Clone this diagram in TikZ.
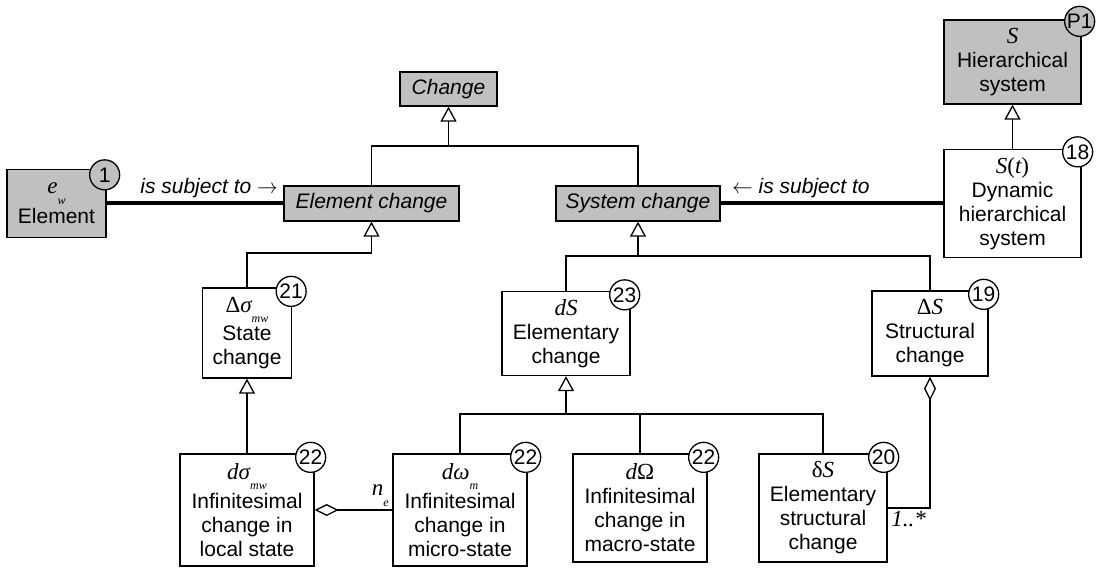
\documentclass[tikz,border=0pt]{standalone}
\usepackage{fontspec}
\setmainfont{Liberation Sans}
\newfontfamily\serifface{Liberation Serif}
\usepackage{xcolor}
\usetikzlibrary{arrows.meta}
\definecolor{boxgray}{RGB}{192,192,192}
\newcommand{\mitx}[1]{{\serifface\itshape #1}}
\newcommand{\mupx}[1]{{\serifface #1}}
\newcommand{\msubx}[1]{\raisebox{-0.45em}{\fontsize{12}{12}\selectfont\serifface\itshape #1}}
\newcommand{\mline}{\fontsize{23}{23}\selectfont}

\begin{document}
\begin{tikzpicture}[x=1pt,y=-1pt,font=\fontsize{21}{24}\selectfont,
 box/.style={draw,line width=1.3pt,inner sep=2pt,align=center},
 gbox/.style={box,fill=boxgray},
 abox/.style={gbox,font=\fontsize{21}{24}\selectfont\itshape},
 num/.style={circle,draw,line width=1.3pt,fill=white,minimum size=30pt,inner sep=0pt},
 gnum/.style={num,fill=boxgray},
 link/.style={line width=1.3pt},
 gen/.style={link,-{Triangle[open,width=16pt,length=15pt]}},
 agg/.style={link,-{Diamond[open,width=12pt,length=24pt]}},
 assoc/.style={line width=4pt}]
 \useasboundingbox (0,0) rectangle (1107,569);

 \node[abox,minimum width=97pt,minimum height=34pt] (change) at (448.5,89) {Change};
 \node[abox,minimum width=175pt,minimum height=35pt] (echange) at (371.5,203.5) {Element change};
 \node[abox,minimum width=164pt,minimum height=35pt] (schange) at (638,203.5) {System change};
 \node[gbox,minimum width=99pt,minimum height=68pt] (element) at (56.5,203.5)
  {{\mline\mitx{e}\msubx{w}}\\[3pt]Element};
 \node[gbox,minimum width=137pt,minimum height=84pt] (hier) at (1012.5,62)
  {{\mline\mitx{S}}\\Hierarchical\\system};
 \node[box,minimum width=137pt,minimum height=108pt] (dyn) at (1012.5,203.5)
  {{\mline\mitx{S}\mupx{(}\mitx{t}\mupx{)}}\\Dynamic\\hierarchical\\system};
 \node[box,minimum width=89pt,minimum height=90pt] (state) at (247,333)
  {{\mline\mupx{Δ}\mitx{σ}\msubx{mw}}\\[2pt]State\\change};
 \node[box,minimum width=128pt,minimum height=84pt] (elem) at (566,333.5)
  {{\mline\mitx{dS}}\\Elementary\\change};
 \node[box,minimum width=116pt,minimum height=85pt] (structc) at (930,333.5)
  {{\mline\mupx{Δ}\mitx{S}}\\Structural\\change};
 \node[box,minimum width=134pt,minimum height=112pt] (local) at (247,510)
  {{\mline\mitx{dσ}\msubx{mw}}\\[2pt]Infinitesimal\\change in\\local state};
 \node[box,minimum width=134pt,minimum height=112pt] (micro) at (460,510)
  {{\mline\mitx{dω}\msubx{m}}\\[2pt]Infinitesimal\\change in\\micro-state};
 \node[box,minimum width=134pt,minimum height=108pt] (macro) at (640,508)
  {{\mline\mitx{d}\mupx{Ω}}\\Infinitesimal\\change in\\macro-state};
 \node[box,minimum width=128pt,minimum height=108pt] (esc) at (823,508)
  {{\mline\mupx{δ}\mitx{S}}\\Elementary\\structural\\change};

 \node[gnum] (nP1) at ([shift={(-2,2)}]hier.north east) {P1};
 \node[gnum] (n1) at ([shift={(-2,6)}]element.north east) {1};
 \node[num] (n18) at ([shift={(-4,3)}]dyn.north east) {18};
 \node[num] (n21) at ([shift={(-1,4)}]state.north east) {21};
 \node[num] (n23) at ([shift={(-6,4)}]elem.north east) {23};
 \node[num] (n19) at ([shift={(-5,4)}]structc.north east) {19};
 \node[num] (n22a) at ([shift={(-4,4)}]local.north east) {22};
 \node[num] (n22b) at ([shift={(-2,4)}]micro.north east) {22};
 \node[num] (n22c) at ([shift={(-4,4)}]macro.north east) {22};
 \node[num] (n20) at ([shift={(-4,4)}]esc.north east) {20};

 \coordinate (cbus) at (448.5,146);
 \coordinate (ebend) at (371.5,253);
 \coordinate (sbus) at (638,256);
 \coordinate (dbus) at (566,414);

 \draw[link] (echange.north) |- (cbus) -| (schange.north);
 \draw[gen] (cbus) -- (change.south);
 \draw[gen] (state.north) |- (ebend) -- (echange.south);
 \draw[link] (elem.north) |- (sbus) -| (structc.north);
 \draw[gen] (sbus) -- (schange.south);
 \draw[link] (micro.north) |- (dbus) -| (esc.north);
 \draw[link] (macro.north) -- (macro.north |- dbus);
 \draw[gen] (dbus) -- (elem.south);
 \draw[gen] (local.north) -- (state.south);
 \draw[gen] (dyn.north) -- (hier.south);

 \draw[assoc] (element.east) -- node[pos=0.58,above,inner sep=4pt,font=\fontsize{21}{24}\selectfont\itshape] (lsubj1) {is subject to $\rightarrow$} (echange.west);
 \draw[assoc] (schange.east) -- node[pos=0.36,above,inner sep=4pt,font=\fontsize{21}{24}\selectfont\itshape] (lsubj2) {$\leftarrow$ is subject to} (dyn.west);

 \draw[agg] (micro.west) node[above left,inner sep=3pt] (lne) {{\mline\mitx{n}\msubx{e}}} -- (local.east);
 \draw[agg] (esc.east) node[below right,inner sep=3pt] (lmult) {{\mline\mitx{1..*}}} -| (structc.south);
\end{tikzpicture}
\end{document}
